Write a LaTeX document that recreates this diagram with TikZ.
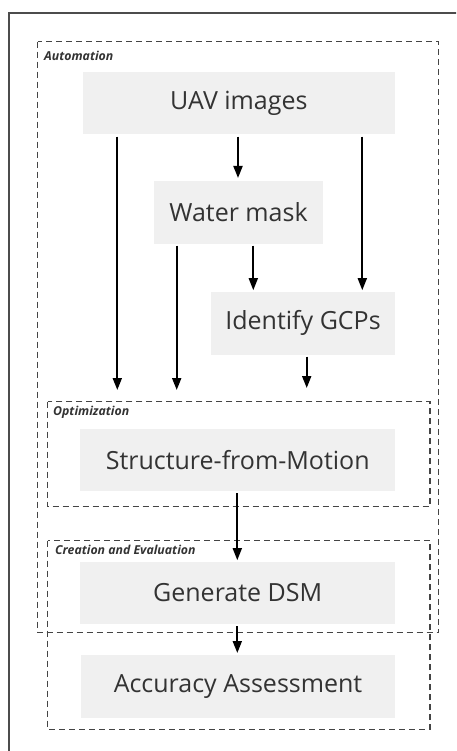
\documentclass[tikz,border=0pt]{standalone}
\usepackage{fontspec}
\setmainfont{Open Sans}
\usetikzlibrary{arrows.meta}
\definecolor{boxfill}{HTML}{F0F0F0}
\definecolor{txt}{HTML}{333333}
\definecolor{dashc}{HTML}{444444}
\tikzset{
  stepbox/.style={fill=boxfill, draw=none, inner sep=0pt, anchor=north west},
  steptext/.style={text=txt, font=\fontsize{25}{29}\selectfont},
  groupbox/.style={draw=dashc, line width=1.5pt, dash pattern=on 6pt off 4pt},
  grouplabel/.style={anchor=west, text=txt, font=\fontsize{12.3}{14}\selectfont\bfseries\itshape, inner sep=0pt},
  arr/.style={draw=black, line width=1.8pt, -{Triangle[length=12pt,width=9pt]}},
}
\begin{document}
\begin{tikzpicture}[x=1pt,y=-1pt]
\useasboundingbox (0,0) rectangle (456,751);
\clip (0,0) rectangle (456,751);
\fill[white] (0,0) rectangle (456,751);
% outer frame
\draw[draw=black!70, line width=1.3pt] (9,13) rectangle (480,780);
% group boxes
\draw[groupbox] (37.7,41.7) rectangle (438.7,632.7);
\draw[groupbox] (47.7,401.7) rectangle (430,506.7);
\draw[groupbox] (47.7,540.7) rectangle (430,729.3);
\node[grouplabel] (lauto) at (44,55.7) {Automation};
\node[grouplabel] (lopt) at (53,412.7) {Optimization};
\node[grouplabel] (lcre) at (55,550) {Creation and Evaluation};
% steps
\node[stepbox, minimum width=312.7pt, minimum height=62pt] (uav) at (82.3,72.3) {};
\node[steptext] at (uav.center) {UAV images};
\node[stepbox, minimum width=168.7pt, minimum height=62.3pt] (water) at (154,181) {};
\node[steptext] at (water.center) {Water mask};
\node[stepbox, minimum width=184.3pt, minimum height=62.6pt] (gcp) at (210.7,291.7) {};
\node[steptext] at (gcp.center) {Identify GCPs};
\node[stepbox, minimum width=315pt, minimum height=62pt] (sfm) at (80,429) {};
\node[steptext] at (sfm.center) {Structure-from-Motion};
\node[stepbox, minimum width=315pt, minimum height=62.3pt] (dsm) at (80,561.7) {};
\node[steptext] at (dsm.center) {Generate DSM};
\node[stepbox, minimum width=314.3pt, minimum height=62.3pt] (acc) at (80.7,655) {};
\node[steptext] at (acc.center) {Accuracy Assessment};
% arrow end coordinates
\coordinate (e1) at (117.3,390);
\coordinate (e2) at (176.7,390);
\coordinate (e3) at (306.7,388);
% arrows
\draw[arr, shorten <=2pt, shorten >=3pt] (uav.south -| 238,0) -- (water.north -| 238,0);
\draw[arr, shorten <=2pt] (uav.south -| e1) -- (e1);
\draw[arr, shorten <=2pt, shorten >=1.5pt] (uav.south -| 362.3,0) -- (gcp.north -| 362.3,0);
\draw[arr, shorten <=2pt] (water.south -| e2) -- (e2);
\draw[arr, shorten <=2pt, shorten >=1.5pt] (water.south -| 253.3,0) -- (gcp.north -| 253.3,0);
\draw[arr, shorten <=2pt] (gcp.south -| e3) -- (e3);
\draw[arr, shorten <=2pt, shorten >=1.5pt] (sfm.south -| 237.3,0) -- (dsm.north -| 237.3,0);
\draw[arr, shorten <=2pt, shorten >=2pt] (dsm.south -| 237.3,0) -- (acc.north -| 237.3,0);
\end{tikzpicture}
\end{document}
